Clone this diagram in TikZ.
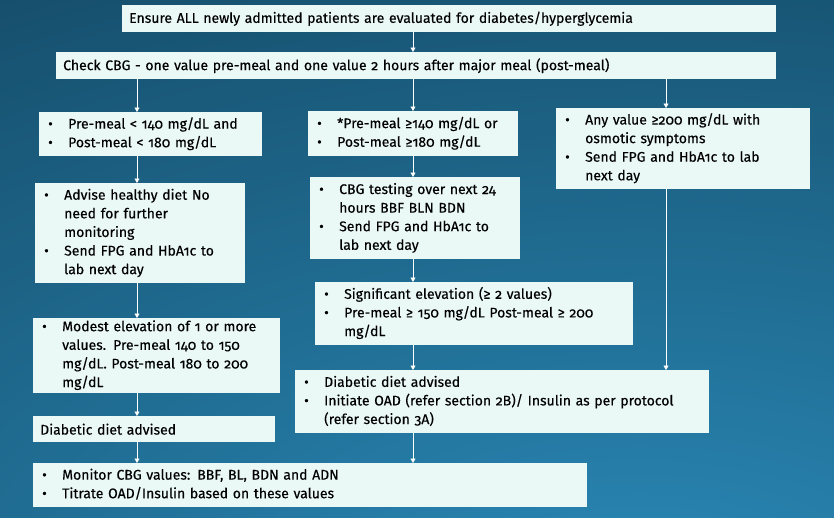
\documentclass[tikz,border=0pt]{standalone}
\usepackage{fontspec}
\setmainfont{Fira Sans}[Numbers=OldStyle]
\usetikzlibrary{arrows.meta}
\definecolor{boxc}{HTML}{EAF8F6}
\definecolor{bgdark}{HTML}{0F3A52}
\definecolor{bglight}{HTML}{2A8AB8}
% bullet list as a two-column table: #1 = width of the text column
\newenvironment{blist}[1]{\begin{tabular}{@{}p{20pt}@{}p{#1}@{}}}{\end{tabular}}
\tikzset{
  box/.style={fill=boxc, draw=none, anchor=north west, inner xsep=9pt, inner ysep=0pt,
    font=\fontsize{14}{18.6}\selectfont\addfontfeature{FakeBold=0.3}, text=black,
    execute at begin node=\raggedright},
  plain/.style={box, inner xsep=7pt},
  arr/.style={draw=white, line width=0.9pt, -{Triangle[width=5pt,length=4.5pt]}}
}
\begin{document}
\begin{tikzpicture}[x=1pt,y=-1pt]
\useasboundingbox (0,0) rectangle (834,517);
\begin{scope}
  \clip (0,0) rectangle (834,517);
  \fill[bgdark] (0,0) rectangle (834,517);
  \shade[inner color=bglight, outer color=bgdark] (640,620) ellipse [x radius=1800, y radius=960];
\end{scope}
% boxes
\node[plain, minimum width=653, minimum height=27, text width=640] (b1) at (122,5)
  {Ensure ALL newly admitted patients are evaluated for diabetes/hyperglycemia};
\node[plain, minimum width=719, minimum height=27, text width=706] (b2) at (56,52)
  {Check CBG - one value pre-meal and one value 2 hours after major meal (post-meal)};
\node[box, minimum width=216, minimum height=44, text width=205] (b3) at (39,112)
  {\begin{blist}{185pt}
   • & Pre-meal < 140 mg/dL and\\
   • & Post-meal < 180 mg/dL
   \end{blist}};
\node[box, minimum width=203, minimum height=45, text width=192] (b4) at (308,111)
  {\begin{blist}{172pt}
   • & *Pre-meal ≥140 mg/dL or\\
   • & Post-meal ≥180 mg/dL
   \end{blist}};
\node[box, minimum width=247, minimum height=81, text width=236] (b5) at (556,108)
  {\begin{blist}{216pt}
   • & Any value ≥200 mg/dL with\newline osmotic symptoms\\
   • & Send FPG and HbA1c to lab\newline next day
   \end{blist}};
\node[box, minimum width=203, minimum height=100, text width=192] (b6) at (35,183)
  {\begin{blist}{172pt}
   • & Advise healthy diet No\newline need for further\newline monitoring\\
   • & Send FPG and HbA1c to\newline lab next day
   \end{blist}};
\node[box, minimum width=203, minimum height=82, text width=192] (b7) at (310,177)
  {\begin{blist}{172pt}
   • & CBG testing over next 24\newline hours BBF BLN BDN\\
   • & Send FPG and HbA1c to\newline lab next day
   \end{blist}};
\node[box, minimum width=311, minimum height=63, text width=300] (b8) at (315,282)
  {\begin{blist}{280pt}
   • & Significant elevation (≥ 2 values)\\
   • & Pre-meal ≥ 150 mg/dL Post-meal ≥ 200\newline mg/dL
   \end{blist}};
\node[box, minimum width=240, minimum height=69, text width=229] (b9) at (33,318)
  {\begin{blist}{209pt}
   • & Modest elevation of 1 or more\newline values. Pre-meal 140 to 150\newline mg/dL. Post-meal 180 to 200\newline mg/dL
   \end{blist}};
\node[plain, minimum width=240, minimum height=26, text width=228] (b10) at (33,416)
  {Diabetic diet advised};
\node[box, minimum width=407, minimum height=63, text width=396] (b11) at (295,370)
  {\begin{blist}{376pt}
   • & Diabetic diet advised\\
   • & Initiate OAD (refer section 2B)/ Insulin as per protocol\newline (refer section 3A)
   \end{blist}};
\node[box, minimum width=547, minimum height=44, text width=536] (b12) at (33,463)
  {\begin{blist}{516pt}
   • & Monitor CBG values: BBF, BL, BDN and ADN\\
   • & Titrate OAD/Insulin based on these values
   \end{blist}};
% connector columns
\coordinate (cl) at (137,0);
\coordinate (cm) at (413,0);
\coordinate (cr) at (666,0);
\draw[arr] (b1.south -| cm) -- (b2.north -| cm);
\draw[arr] (b2.south -| cl) -- (b3.north -| cl);
\draw[arr] (b2.south -| cm) -- (b4.north -| cm);
\draw[arr] (b2.south -| cr) -- (b5.north -| cr);
\draw[arr] (b3.south -| cl) -- (b6.north -| cl);
\draw[arr] (b4.south -| cm) -- (b7.north -| cm);
\draw[arr] (b6.south -| cl) -- (b9.north -| cl);
\draw[arr] (b7.south -| cm) -- (b8.north -| cm);
\draw[arr] (b9.south -| cl) -- (b10.north -| cl);
\draw[arr] (b8.south -| cm) -- (b11.north -| cm);
\draw[arr] (b5.south -| cr) -- (b11.north -| cr);
\draw[arr] (b10.south -| cl) -- (b12.north -| cl);
\draw[arr] (b11.south -| cm) -- (b12.north -| cm);
\end{tikzpicture}
\end{document}
